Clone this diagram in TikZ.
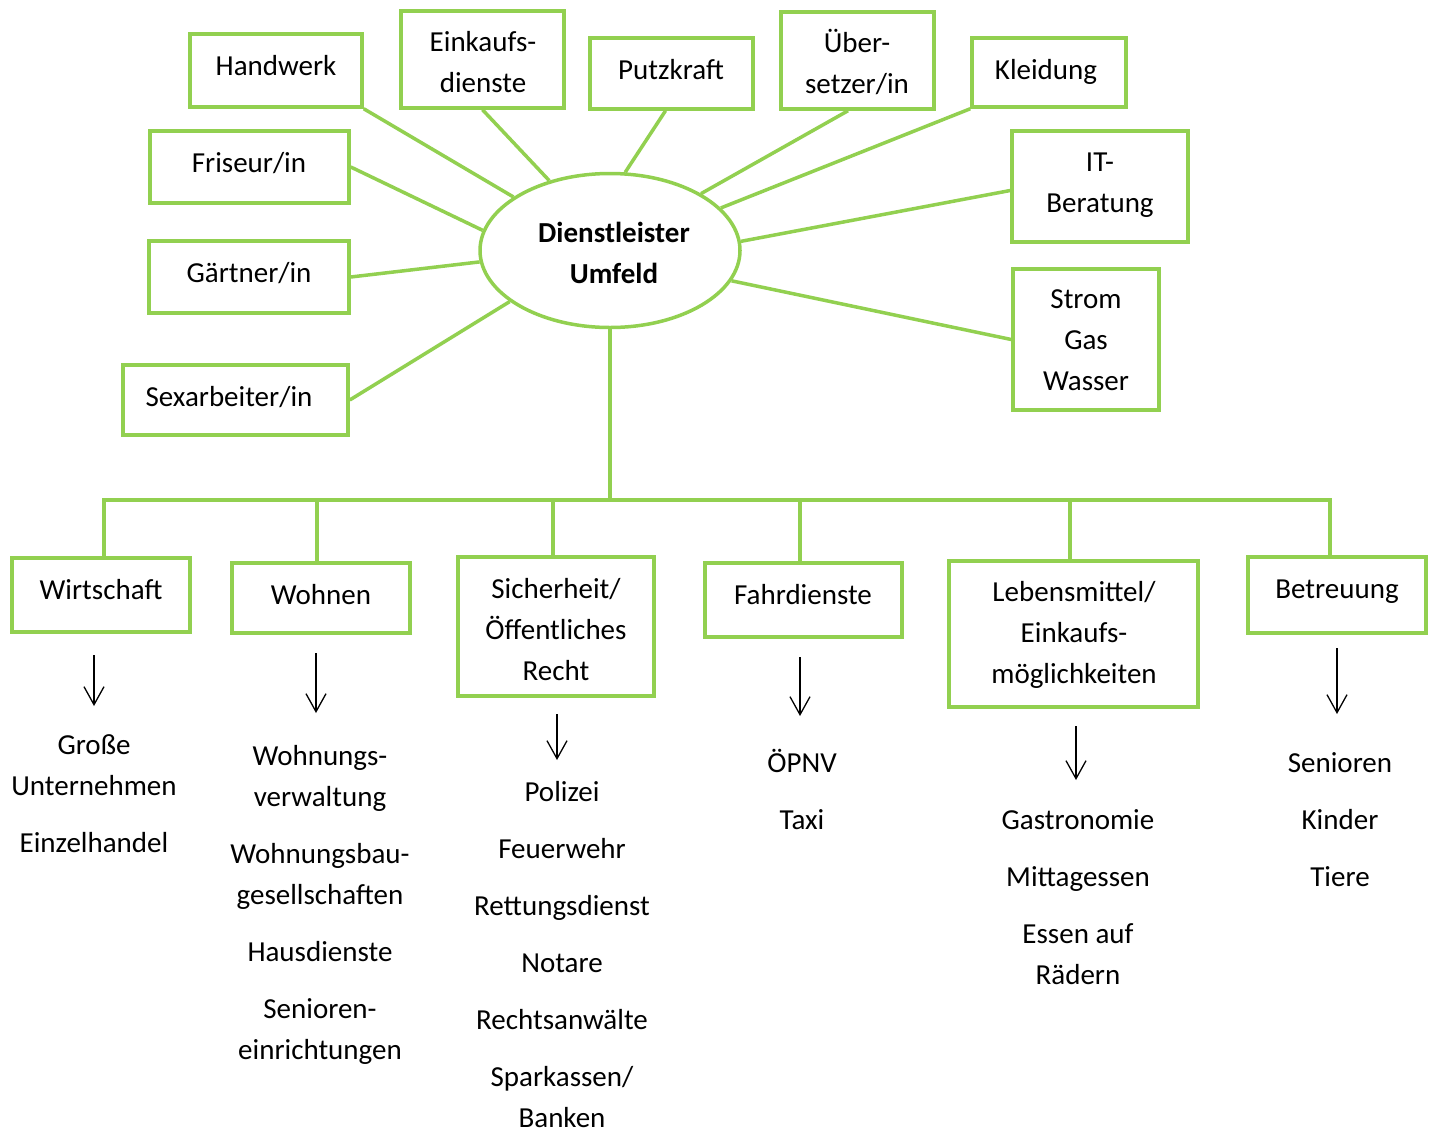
\documentclass[tikz,border=0pt]{standalone}
\usepackage{fontspec}
\setmainfont{Carlito}
\usetikzlibrary{shapes.geometric,arrows.meta}
\definecolor{lg}{HTML}{92D050}
\begin{document}
\begin{tikzpicture}[x=1pt,y=-1pt,
  txt/.style={font=\fontsize{29}{41}\selectfont},
  box/.style={draw=lg,line width=3.5pt,inner sep=0pt},
  conn/.style={draw=lg,line width=3.5pt},
  arr/.style={line width=1.3pt,-{Straight Barb[length=18pt,width=20pt]}},
  lst/.style={txt,align=center,inner sep=0pt,anchor=north,execute at begin node=\strut}]
\useasboundingbox[fill=white] (0,0) rectangle (1434,1130);

% centre
\node[ellipse,draw=lg,line width=3.5pt,minimum width=260pt,minimum height=154pt,inner sep=0pt] (ell) at (610,250.5) {};
\node[lst,font=\fontsize{29}{41}\selectfont\bfseries] (ellt) at (614,222.3) {Dienstleister\\Umfeld};

% top boxes
\node[box,minimum width=172pt,minimum height=73pt] (hw) at (276,70.5) {};
\node[box,minimum width=163pt,minimum height=97pt] (ek) at (482.5,59.5) {};
\node[box,minimum width=163pt,minimum height=71pt] (pk) at (671.5,73.5) {};
\node[box,minimum width=153pt,minimum height=97pt] (ub) at (857.5,60.5) {};
\node[box,minimum width=154pt,minimum height=69pt] (kl) at (1049,72.5) {};
\node[box,minimum width=199pt,minimum height=72pt] (fr) at (249.5,167) {};
\node[box,minimum width=176pt,minimum height=111pt] (it) at (1100,186.5) {};
\node[box,minimum width=200pt,minimum height=72pt] (ga) at (249,277) {};
\node[box,minimum width=146pt,minimum height=141pt] (sg) at (1086,339.5) {};
\node[box,minimum width=225pt,minimum height=70pt] (se) at (235.5,400) {};

\node[lst] (hwt) at (276,46.3) {Handwerk};
\node[lst] (ekt) at (483,31.3) {Einkaufs-\\dienste};
\node[lst] (pkt) at (671,50.3) {Putzkraft};
\node[lst] (ubt) at (857,29.3) {Über-\\setzer/in};
\node[lst] (klt) at (1046,50.3) {Kleidung};
\node[lst] (frt) at (249,143.3) {Friseur/in};
\node[lst] (itt) at (1100,152.3) {IT-\\Beratung};
\node[lst] (gat) at (249,253.3) {Gärtner/in};
\node[lst] (sgt) at (1086,289.3) {Strom\\Gas\\Wasser};
\node[lst] (set) at (229,377.3) {Sexarbeiter/in};

\draw[conn] (hw.south east) -- (ell.151);
\draw[conn] (ek.south) -- (ell.131);
\draw[conn] ([xshift=-6pt]pk.south) -- (ell.79);
\draw[conn] ([xshift=-9.5pt]ub.south) -- (ell.32);
\draw[conn] (kl.south west) -- (ell.21);
\draw[conn] (fr.east) -- (ell.171);
\draw[conn] ([yshift=-4pt]it.west) -- (ell.4);
\draw[conn] (ga.east) -- (ell.185);
\draw[conn] (sg.west) -- (ell.-14);
\draw[conn] (se.east) -- (ell.207);

% bottom boxes
\node[box,minimum width=178pt,minimum height=74pt] (wi) at (101,595) {};
\node[box,minimum width=178pt,minimum height=70pt] (wo) at (321,598) {};
\node[box,minimum width=196pt,minimum height=139pt] (si) at (556,626.5) {};
\node[box,minimum width=197pt,minimum height=74pt] (fa) at (803.5,600) {};
\node[box,minimum width=249pt,minimum height=146pt] (le) at (1073.5,634) {};
\node[box,minimum width=178pt,minimum height=76pt] (be) at (1337,595) {};

\node[lst] (wit) at (101,570.3) {Wirtschaft};
\node[lst] (wot) at (321,575.3) {Wohnen};
\node[lst] (sit) at (556,578.3) {Sicherheit/\\Öffentliches\\Recht};
\node[lst] (fat) at (803,575.3) {Fahrdienste};
\node[lst] (let) at (1074,581.3) {Lebensmittel/\\Einkaufs-\\möglichkeiten};
\node[lst] (bet) at (1337,569.3) {Betreuung};

\coordinate (bus) at (ell.south |- 0,500);
\draw[conn] (ell.south) -- (bus);
\draw[conn] ([xshift=3pt]wi.north) |- (bus);
\draw[conn] ([xshift=-4pt]wo.north) |- (bus);
\draw[conn] ([xshift=-3pt]si.north) |- (bus);
\draw[conn] ([xshift=-3.5pt]fa.north) |- (bus);
\draw[conn] ([xshift=-3.5pt]le.north) |- (bus);
\draw[conn] ([xshift=-7pt]be.north) |- (bus);

% arrows
\coordinate (a1s) at (94,655);   \coordinate (a1e) at (94,706);
\coordinate (a2s) at (316,653);  \coordinate (a2e) at (316,713);
\coordinate (a3s) at (557,714);  \coordinate (a3e) at (557,760);
\coordinate (a4s) at (800,657);  \coordinate (a4e) at (800,716);
\coordinate (a5s) at (1076,726); \coordinate (a5e) at (1076,780);
\coordinate (a6s) at (1337,648); \coordinate (a6e) at (1337,714);
\draw[arr] (a1s) -- (a1e);
\draw[arr] (a2s) -- (a2e);
\draw[arr] (a3s) -- (a3e);
\draw[arr] (a4s) -- (a4e);
\draw[arr] (a5s) -- (a5e);
\draw[arr] (a6s) -- (a6e);

% lists
\node[lst] (l1) at (94,734.3) {Große\\Unternehmen\\[16pt]Einzelhandel};
\node[lst] (l2) at (320,745.3) {Wohnungs-\\verwaltung\\[16pt]Wohnungsbau-\\gesellschaften\\[16pt]Hausdienste\\[16pt]Senioren-\\einrichtungen};
\node[lst] (l3) at (562,781.3) {Polizei\\[16pt]Feuerwehr\\[16pt]Rettungsdienst\\[16pt]Notare\\[16pt]Rechtsanwälte\\[16pt]Sparkassen/\\Banken};
\node[lst] (l4) at (802,749.3) {ÖPNV\\[16pt]Taxi};
\node[lst] (l5) at (1078,809.3) {Gastronomie\\[16pt]Mittagessen\\[16pt]Essen auf\\Rädern};
\node[lst] (l6) at (1340,752.3) {Senioren\\[16pt]Kinder\\[16pt]Tiere};
\end{tikzpicture}
\end{document}
